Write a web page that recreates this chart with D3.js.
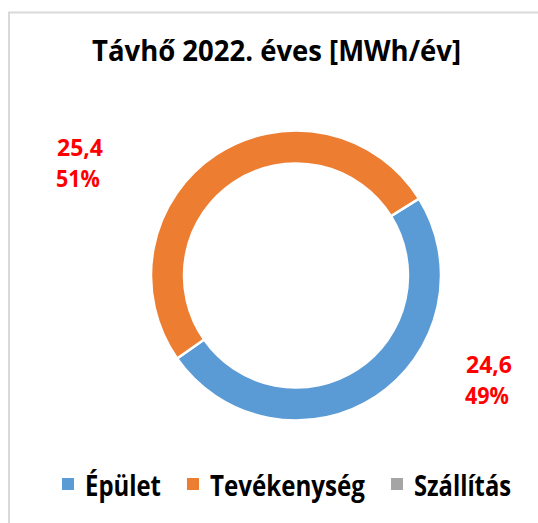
<!doctype html>
<html lang="hu">
<head>
  <meta charset="utf-8">
  <title>Távhő 2022</title>
  <script src="https://d3js.org/d3.v7.min.js"></script>
  <style>
  body { margin: 0; background: #fff; }
  text { font-family: "Open Sans", Lato, sans-serif; font-weight: 700; }
  </style>
</head>
<body>
<div id="chart"></div>
<script>
  // data
  var categories = ["Épület", "Tevékenység", "Szállítás"];
  var values = [24.6, 25.4, 0];
  var colors = ["#5B9BD5", "#ED7D31", "#A5A5A5"];
  var chartTitle = "Távhő 2022. éves [MWh/év]";

  var width = 538, height = 523;
  var cx = 296, cy = 275.5, outerR = 145, innerR = 112;
  var firstSliceAngle = 58; // degrees, like excel's "angle of first slice"

  // where the data labels were dragged to (value line baseline, box center)
  var labelPos = { "Épület": [489, 373], "Tevékenység": [80, 156] };

  var hu = d3.formatLocale({decimal: ",", thousands: " ", grouping: [3], currency: ["", " Ft"]});
  var fmtVal = hu.format(".1f");
  var fmtPct = d3.format(".0%");

  var svg = d3.select("#chart").append("svg")
      .attr("width", width)
      .attr("height", height);

  // chart area border
  svg.append("rect")
      .attr("x", 9).attr("y", 12.5)
      .attr("width", 600).attr("height", 600)
      .attr("fill", "none")
      .attr("stroke", "#d9d9d9")
      .attr("stroke-width", 2);

  svg.append("text")
      .attr("x", 276.5).attr("y", 61)
      .attr("text-anchor", "middle")
      .attr("font-size", 28)
      .attr("textLength", 369)
      .attr("lengthAdjust", "spacingAndGlyphs")
      .attr("fill", "#000")
      .text(chartTitle);

  var data = categories.map(function(c, i) { return {name: c, value: values[i], color: colors[i]}; });
  var total = d3.sum(values);

  var a0 = firstSliceAngle * Math.PI / 180;
  var pie = d3.pie().sort(null).value(function(d) { return d.value; })
      .startAngle(a0).endAngle(a0 + 2 * Math.PI);
  var arc = d3.arc().innerRadius(innerR).outerRadius(outerR);

  var g = svg.append("g").attr("transform", "translate(" + cx + "," + cy + ")");
  g.selectAll("path")
      .data(pie(data).filter(function(d) { return d.data.value > 0; }))
    .enter().append("path")
      .attr("d", arc)
      .attr("fill", function(d) { return d.data.color; })
      .attr("stroke", "#fff")
      .attr("stroke-width", 2.5);

  // data labels
  data.forEach(function(d) {
    if (!(d.value > 0)) return;
    var p = labelPos[d.name];
    var t = svg.append("text")
        .attr("text-anchor", "middle")
        .attr("font-size", 23)
        .attr("fill", "#FF0000");
    t.append("tspan").attr("x", p[0]).attr("y", p[1])
        .attr("textLength", 46).attr("lengthAdjust", "spacingAndGlyphs")
        .text(fmtVal(d.value));
    t.append("tspan").attr("x", p[0] - 2).attr("y", p[1] + 31)
        .attr("textLength", 44).attr("lengthAdjust", "spacingAndGlyphs")
        .text(fmtPct(d.value / total));
  });

  // legend
  var legendWidths = [76, 155, 97];
  var legend = svg.append("g").attr("transform", "translate(62,496)");
  var lx = 0;
  data.forEach(function(d, i) {
    legend.append("rect")
        .attr("x", lx).attr("y", -18)
        .attr("width", 12).attr("height", 12)
        .attr("fill", d.color);
    legend.append("text")
        .attr("x", lx + 23).attr("y", 0)
        .attr("font-size", 28)
        .attr("textLength", legendWidths[i])
        .attr("lengthAdjust", "spacingAndGlyphs")
        .attr("fill", "#000")
        .text(d.name);
    lx += 23 + legendWidths[i] + 26;
  });
</script>
</body>
</html>
